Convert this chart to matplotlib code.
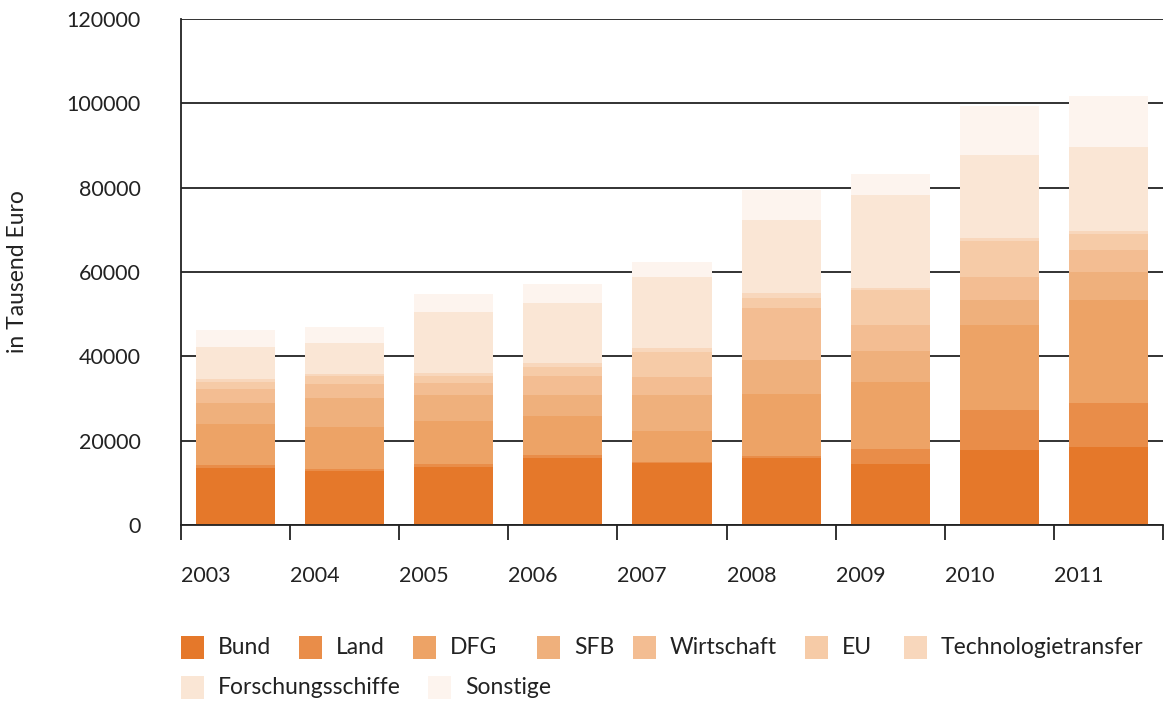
import matplotlib
matplotlib.use("Agg")
import matplotlib.pyplot as plt
from matplotlib.patches import Rectangle
import numpy as np

plt.rcParams['font.family'] = ['Lato', 'DejaVu Sans']

# Data (in Tausend Euro)
years = ['2003', '2004', '2005', '2006', '2007', '2008', '2009', '2010', '2011']
series_names = ['Bund', 'Land', 'DFG', 'SFB', 'Wirtschaft', 'EU',
                'Technologietransfer', 'Forschungsschiffe', 'Sonstige']
bund = [13500, 12800, 13700, 15900, 14600, 15900, 14450, 17800, 18500]
land = [650, 550, 800, 700, 300, 500, 3550, 9500, 10400]
dfg = [9800, 9900, 10100, 9200, 7400, 14700, 15900, 20100, 24400]
sfb = [5000, 6900, 6200, 5000, 8500, 8100, 7300, 5900, 6600]
wirtschaft = [3300, 3300, 2800, 4500, 4300, 12300, 6200, 5500, 5400]
eu = [1700, 2000, 1700, 2100, 5900, 2400, 8300, 8500, 3800]
technologietransfer = [700, 400, 700, 1000, 900, 1200, 500, 700, 700]
forschungsschiffe = [7600, 7300, 14500, 14200, 16900, 17300, 22000, 19700, 19900]
sonstige = [4000, 3800, 4200, 4500, 3500, 7100, 5000, 11600, 12100]

colors = ['#E5782A', '#E98D49', '#EDA366', '#EFB07C', '#F3BD92',
          '#F6CBA7', '#F8D7BC', '#FAE6D5', '#FDF4EE']

series = [bund, land, dfg, sfb, wirtschaft, eu, technologietransfer,
          forschungsschiffe, sonstige]

W, H = 1173, 702
fig = plt.figure(figsize=(W / 100, H / 100), dpi=100)
ax = fig.add_axes([181 / W, (H - 525) / H, (1163 - 181) / W, (525 - 19) / H])

x = np.arange(len(years))
bottom = np.zeros(len(years))
for vals, c in zip(series, colors):
    ax.bar(x, vals, width=0.725, bottom=bottom, color=c, zorder=2, linewidth=0)
    bottom += np.array(vals)

ax.set_xlim(-0.5, len(years) - 0.5)
ax.set_ylim(0, 120000)
ax.set_yticks(np.arange(0, 120001, 20000))
ax.yaxis.grid(True, color='#222222', linewidth=1.3, zorder=0)
ax.set_axisbelow(True)
ax.tick_params(axis='y', length=0, pad=29, labelsize=15.5)
for lab in ax.get_yticklabels():
    lab.set_color('#222222')

ax.set_xticks(np.arange(-0.5, len(years), 1.0))
ax.set_xticklabels([])
ax.tick_params(axis='x', direction='out', length=11, width=1.3, color='#222222')

for i, y in enumerate(years):
    ax.text(i - 0.5, -0.1, y, transform=ax.get_xaxis_transform(),
            ha='left', va='center', fontsize=15.5, color='#222222')

for s in ['top', 'right']:
    ax.spines[s].set_visible(False)
for s in ['left', 'bottom']:
    ax.spines[s].set_color('#222222')
    ax.spines[s].set_linewidth(1.3)

fig.text(18 / W, 1 - 272 / H, 'in Tausend Euro', rotation=90, ha='center',
         va='center', fontsize=16.5, color='#222222')

# Legend, flowing layout like the reference
legend_pos = [(181, 647), (299, 647), (413, 647), (537, 647), (633, 647),
              (805, 647), (904, 647), (181, 687), (428, 687)]
sq = 23
for (px, py), name, c in zip(legend_pos, series_names, colors):
    fig.patches.append(Rectangle((px / W, 1 - (py + sq / 2) / H), sq / W, sq / H,
                                 transform=fig.transFigure, color=c, linewidth=0))
    fig.text((px + 37) / W, 1 - py / H, name, ha='left', va='center',
             fontsize=16.5, color='#222222')

fig.savefig('out.png', dpi=100)
